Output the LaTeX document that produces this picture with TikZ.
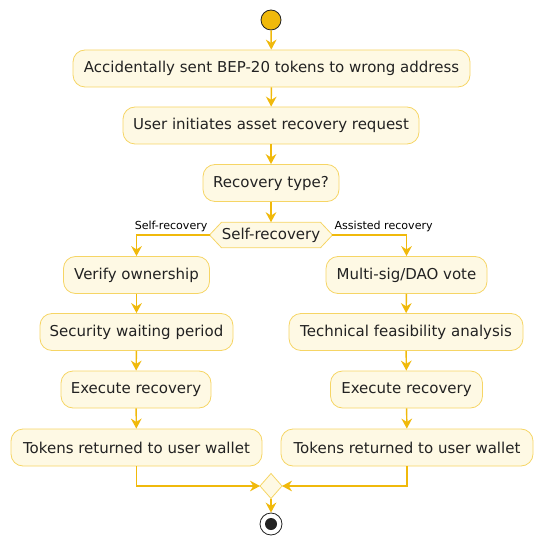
\documentclass[tikz,border=0pt]{standalone}
\usepackage{fontspec}
\setmainfont{DejaVu Sans}
\usetikzlibrary{arrows.meta}
\definecolor{arrowc}{HTML}{F0B90B}
\definecolor{boxfill}{HTML}{FEF9E4}
\definecolor{boxline}{HTML}{F6D565}
\definecolor{txt}{HTML}{222222}
\tikzset{
  act/.style={draw=boxline, fill=boxfill, rounded corners=9pt, line width=0.6pt,
    minimum height=27.75pt, inner xsep=4pt, text=txt, font=\fontsize{11.25pt}{13pt}\selectfont},
  flow/.style={draw=arrowc, line width=1.1pt, -{Stealth[length=7.5pt,width=8pt,inset=2.5pt]}},
  lbl/.style={font=\fontsize{8.3pt}{9.5pt}\selectfont, text=black, inner sep=1pt},
}
\begin{document}
\begin{tikzpicture}[x=0.75pt,y=-0.75pt]
\useasboundingbox (0,0) rectangle (542,548);
\node[circle, fill=arrowc, draw=txt, line width=0.6pt, minimum size=15pt, inner sep=0pt] (start) at (271,20) {};
\node[act, minimum width=297.75pt] (a1) at (271.5,68.5) {Accidentally sent BEP-20 tokens to wrong address};
\node[act, minimum width=222pt] (a2) at (271,125.5) {User initiates asset recovery request};
\node[act, minimum width=102pt] (a3) at (271,183) {Recovery type?};
\node[minimum width=73.5pt, minimum height=18.75pt, inner sep=0pt, text=txt, font=\fontsize{11.25pt}{13pt}\selectfont] (hex) at (271,235) {Self-recovery};
\draw[draw=boxline, fill=boxfill, line width=0.6pt] ([xshift=-9pt]hex.west) -- (hex.north west) -- (hex.north east) -- ([xshift=9pt]hex.east) -- (hex.south east) -- (hex.south west) -- cycle;
\node[minimum width=73.5pt, minimum height=18.75pt, inner sep=0pt, text=txt, font=\fontsize{11.25pt}{13pt}\selectfont] at (hex) {Self-recovery};
\coordinate (hl) at ([xshift=-9pt]hex.west);
\coordinate (hr) at ([xshift=9pt]hex.east);

\node[act, minimum width=109.5pt] (l1) at (136.5,275) {Verify ownership};
\node[act, minimum width=144.75pt] (l2) at (136.5,332) {Security waiting period};
\node[act, minimum width=112.5pt] (l3) at (136,389.5) {Execute recovery};
\node[act, minimum width=188.25pt] (l4) at (136.5,447.5) {Tokens returned to user wallet};

\node[act, minimum width=120.75pt] (r1) at (406.5,275) {Multi-sig/DAO vote};
\node[act, minimum width=175.5pt] (r2) at (406,332) {Technical feasibility analysis};
\node[act, minimum width=114pt] (r3) at (406.5,389.5) {Execute recovery};
\node[act, minimum width=189pt] (r4) at (407,447.5) {Tokens returned to user wallet};

\draw[draw=boxline, fill=boxfill, line width=0.6pt] (260,486) -- (271,473.5) -- (282,486) -- (271,498.5) -- cycle;
\coordinate (mw) at (260,486);
\coordinate (me) at (282,486);
\coordinate (ms) at (271,498.5);
\node[circle, draw=txt, fill=white, line width=0.6pt, minimum size=16.5pt, inner sep=0pt] (stop) at (271,524) {};
\node[circle, fill=txt, minimum size=9pt, inner sep=0pt] at (stop) {};

\draw[flow] (start) -- (a1);
\draw[flow] (a1) -- (a2);
\draw[flow] (a2) -- (a3);
\draw[flow] (a3) -- (hex.north);
\draw[flow] (hl) -| (l1.north);
\draw[flow] (hr) -| (r1.north);
\node[lbl, anchor=south east] at (209,233) {Self-recovery};
\node[lbl, anchor=south west] at (333,233) {Assisted recovery};
\draw[flow] (l1) -- (l2);
\draw[flow] (l2) -- (l3);
\draw[flow] (l3) -- (l4);
\draw[flow] (r1) -- (r2);
\draw[flow] (r2) -- (r3);
\draw[flow] (r3) -- (r4);
\draw[flow] (l4.south) |- (mw);
\draw[flow] (r4.south) |- (me);
\draw[flow] (ms) -- (stop);
\end{tikzpicture}
\end{document}
